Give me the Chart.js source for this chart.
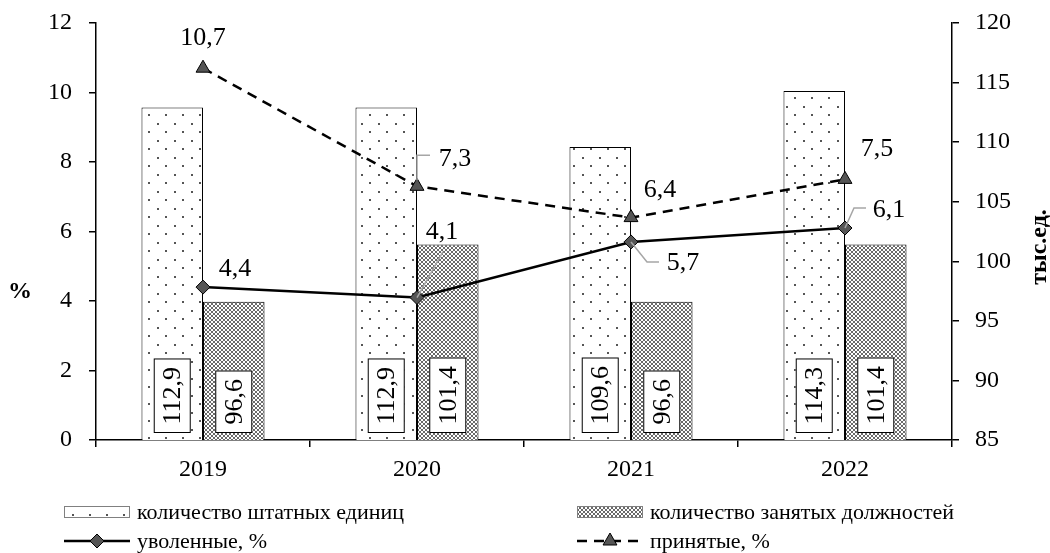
<!DOCTYPE html>
<html><head><meta charset="utf-8">
<script src="https://cdn.jsdelivr.net/npm/chart.js@4/dist/chart.umd.min.js"></script>
<style>html,body{margin:0;padding:0;background:#fff;}#wrap{width:1050px;height:553px;}</style>
</head><body><div id="wrap"><canvas id="c" width="1050" height="553"></canvas></div>
<script>
// ---- data ----
const categories = ['2019', '2020', '2021', '2022'];
const staffUnits = [112.9, 112.9, 109.6, 114.3];        // тыс.ед.
const filledPositions = [96.6, 101.4, 96.6, 101.4];     // тыс.ед.
const dismissedPct = [4.4, 4.1, 5.7, 6.1];              // %
const hiredPct = [10.7, 7.3, 6.4, 7.5];                 // %
const leftTicks = [0, 2, 4, 6, 8, 10, 12];
const rightTicks = [85, 90, 95, 100, 105, 110, 115, 120];
const seriesNames = ['количество штатных единиц', 'количество занятых должностей', 'уволенные, %', 'принятые, %'];
const leftTitle = '%';
const rightTitle = 'тыс.ед.';

// ---- styles ----
const FONT = '"Liberation Serif", "Times New Roman", serif';
Chart.defaults.font.family = FONT;
Chart.defaults.color = '#000';

function dotPattern() {
  const c = document.createElement('canvas'); c.width = 17; c.height = 17;
  const g = c.getContext('2d');
  g.fillStyle = '#fff'; g.fillRect(0, 0, 17, 17);
  g.fillStyle = '#555';
  g.fillRect(4, 4, 2, 2); g.fillRect(12, 12, 2, 2);
  return g.createPattern(c, 'repeat');
}
function hatchPattern() {
  const c = document.createElement('canvas'); c.width = 4; c.height = 4;
  const g = c.getContext('2d');
  g.fillStyle = '#fff'; g.fillRect(0, 0, 4, 4);
  g.fillStyle = '#6a6a6a';
  [[0,0],[1,1],[2,2],[3,3],[3,0],[2,1],[1,2],[0,3]].forEach(p => g.fillRect(p[0], p[1], 1, 1));
  return g.createPattern(c, 'repeat');
}
const dotFill = dotPattern();
const hatchFill = hatchPattern();

// label placement (offsets from the point, in px) and leader paths
const dismissedLabelPos = [
  {dx: 32, dy: -18},
  {dx: 25, dy: -65, lead: [[0,0],[26,-46]]},
  {dx: 52, dy: 21, lead: [[0,0],[16,20],[28,20]]},
  {dx: 44, dy: -18, lead: [[0,0],[9,-20],[21,-20]]}
];
const hiredLabelPos = [
  {dx: 0, dy: -30},
  {dx: 38, dy: -27, lead: [[0,-6],[0,-31],[13,-31]]},
  {dx: 29, dy: -27},
  {dx: 32, dy: -30}
];

const fmt = v => String(v).replace('.', ',');

const labelPlugin = {
  id: 'labelPlugin',
  afterDatasetsDraw(chart) {
    const ctx = chart.ctx;
    const bottom = chart.chartArea.bottom;
    // bar value boxes
    [0, 1].forEach(di => {
      const meta = chart.getDatasetMeta(di);
      const vals = chart.data.datasets[di].data;
      meta.data.forEach((bar, i) => {
        const txt = fmt(vals[i]);
        const props = bar.getProps(['x'], true);
        ctx.save();
        ctx.font = '26px ' + FONT;
        const w = ctx.measureText(txt).width;
        const len = w + 17, th = 37;
        const cx = props.x, cy = bottom - 7 - len / 2;
        ctx.translate(cx, cy);
        ctx.rotate(-Math.PI / 2);
        ctx.fillStyle = '#fff';
        ctx.fillRect(-len / 2, -th / 2, len, th);
        ctx.strokeStyle = '#000'; ctx.lineWidth = 1;
        ctx.strokeRect(-len / 2 + 0.5, -th / 2 + 0.5, len - 1, th - 1);
        ctx.fillStyle = '#000';
        ctx.textAlign = 'center'; ctx.textBaseline = 'middle';
        ctx.fillText(txt, 0, 1);
        ctx.restore();
      });
    });
    // line labels
    [[2, dismissedLabelPos], [3, hiredLabelPos]].forEach(([di, pos]) => {
      const meta = chart.getDatasetMeta(di);
      const vals = chart.data.datasets[di].data;
      meta.data.forEach((pt, i) => {
        const p = pos[i];
        ctx.save();
        if (p.lead) {
          ctx.strokeStyle = '#a6a6a6'; ctx.lineWidth = 1.5;
          ctx.beginPath();
          p.lead.forEach((q, k) => k ? ctx.lineTo(pt.x + q[0], pt.y + q[1]) : ctx.moveTo(pt.x + q[0], pt.y + q[1]));
          ctx.stroke();
        }
        ctx.font = '26px ' + FONT;
        ctx.fillStyle = '#000';
        ctx.textAlign = 'center'; ctx.textBaseline = 'middle';
        ctx.fillText(fmt(vals[i]), pt.x + p.dx, pt.y + p.dy);
        ctx.restore();
      });
    });
  },
  afterDraw(chart) {
    const ctx = chart.ctx;
    const ds = chart.data.datasets;
    ctx.save();
    // axis titles
    ctx.fillStyle = '#000';
    ctx.font = 'bold 24px ' + FONT;
    ctx.textAlign = 'center'; ctx.textBaseline = 'middle';
    ctx.fillText(leftTitle, 20, 292);
    ctx.save();
    ctx.translate(1040, 247);
    ctx.rotate(-Math.PI / 2);
    ctx.font = 'bold 24px ' + FONT;
    ctx.fillText(rightTitle, 0, 0);
    ctx.restore();

    // legend
    const cols = [64, 577];
    const rows = [512, 541];
    const sw = 66;
    ctx.font = '22px ' + FONT;
    ctx.textAlign = 'left'; ctx.textBaseline = 'middle';
    [0, 1].forEach(k => {
      const x = cols[k], y = rows[0];
      ctx.fillStyle = ds[k].backgroundColor;
      ctx.fillRect(x, y - 6, sw, 12);
      ctx.strokeStyle = '#808080'; ctx.lineWidth = 1;
      ctx.strokeRect(x + 0.5, y - 5.5, sw - 1, 11);
      ctx.fillStyle = '#000';
      ctx.fillText(ds[k].label, x + sw + 7, y + 1);
    });
    [2, 3].forEach((k, j) => {
      const x = cols[j], y = rows[1];
      ctx.save();
      ctx.strokeStyle = ds[k].borderColor; ctx.lineWidth = ds[k].borderWidth;
      ctx.setLineDash(ds[k].borderDash || []);
      ctx.beginPath(); ctx.moveTo(x, y); ctx.lineTo(x + sw, y); ctx.stroke();
      ctx.restore();
      ctx.save();
      ctx.fillStyle = ds[k].pointBackgroundColor; ctx.strokeStyle = ds[k].pointBorderColor;
      ctx.lineWidth = ds[k].pointBorderWidth;
      Chart.helpers.drawPoint(ctx, {pointStyle: ds[k].pointStyle, radius: ds[k].pointRadius, borderWidth: ds[k].pointBorderWidth, rotation: 0}, x + sw / 2, y);
      ctx.restore();
      ctx.fillStyle = '#000';
      ctx.fillText(ds[k].label, x + sw + 7, y + 1);
    });
    ctx.restore();
  }
};

const noPad = s => { s.paddingTop = 0; s.paddingBottom = 0; s.paddingLeft = 0; s.paddingRight = 0; };

new Chart(document.getElementById('c'), {
  data: {
    labels: categories,
    datasets: [
      {type: 'bar', label: seriesNames[0], data: staffUnits, yAxisID: 'yR', order: 2,
       backgroundColor: dotFill, borderColor: '#000', borderWidth: 1, barPercentage: 1, categoryPercentage: 0.575},
      {type: 'bar', label: seriesNames[1], data: filledPositions, yAxisID: 'yR', order: 2,
       backgroundColor: hatchFill, borderColor: '#000', borderWidth: 1, barPercentage: 1, categoryPercentage: 0.575},
      {type: 'line', label: seriesNames[2], data: dismissedPct, yAxisID: 'yL', order: 0,
       borderColor: '#000', borderWidth: 2.5, tension: 0, fill: false,
       pointStyle: 'rectRot', pointRadius: 7, pointBackgroundColor: '#555', pointBorderColor: '#000', pointBorderWidth: 1},
      {type: 'line', label: seriesNames[3], data: hiredPct, yAxisID: 'yL', order: 1,
       borderColor: '#000', borderWidth: 2.5, borderDash: [10, 7], tension: 0, fill: false,
       pointStyle: 'triangle', pointRadius: 8, pointBackgroundColor: '#555', pointBorderColor: '#000', pointBorderWidth: 1}
    ]
  },
  options: {
    responsive: false,
    animation: false,
    events: [],
    layout: {padding: {top: 23, left: 0, right: 0, bottom: 0}},
    plugins: {legend: {display: false}, tooltip: {enabled: false}},
    scales: {
      x: {
        type: 'category', offset: true,
        grid: {offset: true, drawOnChartArea: false, drawTicks: true, tickLength: 7, color: '#000', lineWidth: 1.5},
        border: {color: '#000', width: 1.5},
        ticks: {font: {size: 24}, color: '#000', padding: 8, maxRotation: 0},
        afterFit: s => { s.height = 113; noPad(s); }
      },
      yL: {
        position: 'left', min: 0, max: 12,
        afterBuildTicks: s => { s.ticks = leftTicks.map(v => ({value: v})); },
        grid: {drawOnChartArea: false, tickLength: 7, color: '#000', lineWidth: 1.5},
        border: {color: '#000', width: 1.5},
        ticks: {font: {size: 24}, color: '#000', padding: 17},
        afterFit: s => { s.width = 96; noPad(s); }
      },
      yR: {
        position: 'right', min: 85, max: 120,
        afterBuildTicks: s => { s.ticks = rightTicks.map(v => ({value: v})); },
        grid: {drawOnChartArea: false, tickLength: 7, color: '#000', lineWidth: 1.5},
        border: {color: '#000', width: 1.5},
        ticks: {font: {size: 24}, color: '#000', padding: 16},
        afterFit: s => { s.width = 98; noPad(s); }
      }
    }
  },
  plugins: [labelPlugin]
});
</script>
</body></html>
